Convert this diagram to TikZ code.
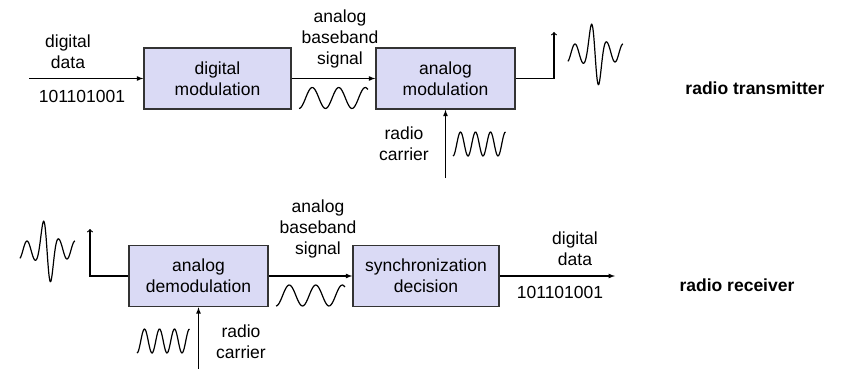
\documentclass[tikz,border=0pt]{standalone}
\usepackage{fontspec}
\setmainfont{Liberation Sans}
\definecolor{boxfill}{RGB}{218,218,245}

\begin{document}
\begin{tikzpicture}[x=1pt, y=-1pt,
  every node/.style={font=\fontsize{17.5}{21}\selectfont},
  block/.style={draw=black!80, line width=1.5pt, fill=boxfill, align=center, minimum height=61pt, inner sep=0pt},
  lbl/.style={align=center, inner sep=0pt},
  sig/.style={line width=1.2pt},
  wave/.style={line width=1.2pt}]

  \useasboundingbox (0,0) rectangle (845,369);

%blocks
  \foreach \x/\y/\w/\txt/\name in {217.5/78.5/147/{digital\\modulation}/DM, 445.5/78.5/139/{analog\\modulation}/AM, 198.5/276/139/{analog\\demodulation}/AD, 426/276/146/{synchronization\\decision}/SD}{
     \node[block, minimum width=\w pt] (\name) at (\x,\y) {\txt};
  }

%labels
  \foreach \x/\y/\txt/\name in {68/52/{digital\\data}/dIn, 82/96/101101001/bIn, 340/39/{analog\\baseband\\signal}/bbT, 404/144/{radio\\carrier}/rcT, 318/229/{analog\\baseband\\signal}/bbR, 575/249/{digital\\data}/dOut, 560/292/101101001/bOut, 241/342/{radio\\carrier}/rcR}{
     \node[lbl] (\name) at (\x,\y) {\txt};
  }
  \node[lbl, font=\fontsize{17.5}{21}\selectfont\bfseries] (tx) at (755,88) {radio transmitter};
  \node[lbl, font=\fontsize{17.5}{21}\selectfont\bfseries] (rx) at (737,285) {radio receiver};

%connectors
  \coordinate (dataIn) at (29,78.5);
  \coordinate (antT) at (554,32);
  \coordinate (carT) at (445.5,178);
  \coordinate (antR) at (90,229);
  \coordinate (carR) at (198.5,369);
  \coordinate (dataOut) at (615,276);

  \draw[sig, -latex] (dataIn) -- (DM);
  \draw[sig, -latex] (DM) -- (AM);
  \draw[sig, ->] (AM) -| (antT);
  \draw[sig, -latex] (carT) -- (AM);
  \draw[sig, ->] (AD) -| (antR);
  \draw[sig, -latex] (AD) -- (SD);
  \draw[sig, -latex] (SD) -- (dataOut);
  \draw[sig, -latex] (carR) -- (AD);

%waves
  \foreach \px/\py in {299/98, 276/295.5}{
     \draw[wave] plot[smooth, domain=0:936, samples=60] ({\px+\x/360*26.5}, {\py+10.5*cos(\x)});
  }
  \foreach \px/\py in {453/144, 137/341}{
     \draw[wave] plot[smooth, domain=0:1260, samples=70] ({\px+\x/360*15}, {\py+12*cos(\x)});
  }
  \foreach \px/\py in {0/0, 548/-197}{
     \draw[wave] plot[smooth, domain=20:75, samples=110] ({\px+\x}, {\py+250-(9+28*exp(-(((\x-47.5)/7)^2)))*sin(360*(\x-39)/16)});
  }

\end{tikzpicture}
\end{document}
